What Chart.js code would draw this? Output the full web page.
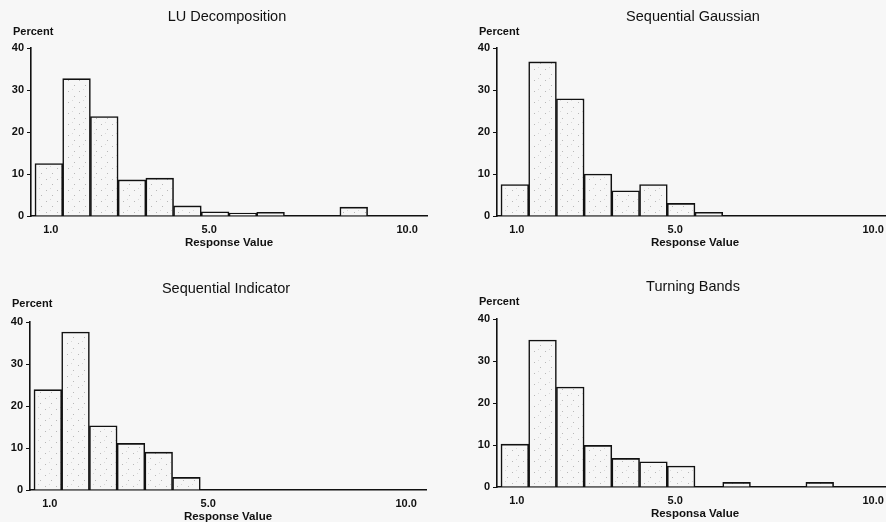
<!DOCTYPE html>
<html><head><meta charset="utf-8">
<script src="https://cdn.jsdelivr.net/npm/chart.js@4.4.1/dist/chart.umd.min.js"></script>
<style>
html,body{margin:0;padding:0;width:886px;height:522px;overflow:hidden;background:#f7f7f7;}
canvas{position:absolute;}
</style></head><body>
<canvas id="c1" width="450" height="261" style="left:0px;top:0px;width:450px;height:261px"></canvas>
<canvas id="c2" width="450" height="261" style="left:466px;top:0px;width:450px;height:261px"></canvas>
<canvas id="c3" width="450" height="261" style="left:-1px;top:274px;width:450px;height:261px"></canvas>
<canvas id="c4" width="450" height="261" style="left:466px;top:271px;width:450px;height:261px"></canvas>
<script>
// Histogram bins (centres of the response-value classes)
const binCenters = [0.95, 1.65, 2.35, 3.05, 3.75, 4.45, 5.15, 5.85, 6.55, 7.25, 7.95, 8.65, 9.35, 10.05];
const xTickValues = [1.0, 5.0, 10.0];
const yTickValues = [0, 10, 20, 30, 40];

// Percent of values in each bin
const luDecomposition     = [12.5, 32.7, 23.7, 8.6, 9.0, 2.4, 1.0, 0.7, 0.9, 0, 0, 2.1, 0, 0];
const sequentialGaussian  = [7.5, 36.7, 27.9, 10.0, 6.0, 7.5, 3.0, 0.9, 0, 0, 0, 0, 0, 0];
const sequentialIndicator = [23.9, 37.6, 15.3, 11.1, 9.0, 3.0, 0, 0, 0, 0, 0, 0, 0, 0];
const turningBands        = [10.2, 35.0, 23.8, 9.9, 6.8, 6.0, 5.0, 0, 1.1, 0, 0, 1.1, 0, 0];

const titles = ['LU Decomposition', 'Sequential Gaussian', 'Sequential Indicator', 'Turning Bands'];
const xTitles = ['Response Value', 'Response Value', 'Response Value', 'Responsa Value'];
const yLabel = 'Percent';

const FONT = '"Liberation Sans", Arial, Helvetica, sans-serif';

function stipple() {
  const c = document.createElement('canvas');
  c.width = 11; c.height = 11;
  const g = c.getContext('2d');
  g.fillStyle = '#f6f6f6'; g.fillRect(0, 0, 11, 11);
  g.fillStyle = '#b8b8b8';
  g.fillRect(2, 3, 1, 1);
  g.fillRect(8, 8, 1, 1);
  g.fillStyle = '#d8d8d8';
  g.fillRect(6, 1, 1, 1);
  return g.createPattern(c, 'repeat');
}

const panelText = {
  id: 'panelText',
  afterDraw(chart, args, opts) {
    const { ctx, chartArea } = chart;
    ctx.save();
    ctx.fillStyle = '#111';
    ctx.textBaseline = 'middle';
    ctx.textAlign = 'center';
    ctx.font = '14.5px ' + FONT;
    ctx.fillText(opts.title, (chartArea.left + chartArea.right) / 2 - 2, opts.titleY);
    ctx.textAlign = 'left';
    ctx.font = 'bold 11px ' + FONT;
    ctx.fillText(yLabel, chartArea.left - 18, opts.percentY);
    ctx.restore();
  }
};

const panels = [
  { id: 'c1', values: luDecomposition, title: titles[0], xTitle: xTitles[0], titleY: 17, percentY: 32 },
  { id: 'c2', values: sequentialGaussian, title: titles[1], xTitle: xTitles[1], titleY: 17, percentY: 32 },
  { id: 'c3', values: sequentialIndicator, title: titles[2], xTitle: xTitles[2], titleY: 15, percentY: 30 },
  { id: 'c4', values: turningBands, title: titles[3], xTitle: xTitles[3], titleY: 16, percentY: 31 }
];

panels.forEach(p => {
  new Chart(document.getElementById(p.id), {
    type: 'bar',
    data: {
      datasets: [{
        data: binCenters.map((x, i) => ({ x: x, y: p.values[i] })),
        backgroundColor: stipple(),
        borderColor: '#111',
        borderWidth: 1.6,
        barPercentage: 1,
        categoryPercentage: 1
      }]
    },
    options: {
      responsive: false,
      animation: false,
      events: [],
      layout: { padding: { top: 48, left: 0, right: 23, bottom: 0 } },
      plugins: {
        legend: { display: false },
        tooltip: { enabled: false },
        title: { display: false },
        panelText: { title: p.title, titleY: p.titleY, percentY: p.percentY }
      },
      scales: {
        x: {
          type: 'linear',
          offset: false,
          bounds: 'ticks',
          min: 0.5,
          max: 10.5,
          afterBuildTicks: s => { s.ticks = xTickValues.map(v => ({ value: v })); },
          afterFit: s => { s.height = 45; },
          ticks: {
            autoSkip: false, maxRotation: 0, padding: 7,
            color: '#111',
            font: { family: FONT, size: 11, weight: 'bold' },
            callback: v => Number(v).toFixed(1)
          },
          grid: { display: false, drawTicks: false, offset: false },
          border: { display: true, color: '#111', width: 1.6 },
          title: {
            display: true, text: p.xTitle, color: '#111',
            font: { family: FONT, size: 11.5, weight: 'bold' },
            padding: { top: 11, bottom: 11 }
          }
        },
        y: {
          min: 0,
          max: 40,
          afterBuildTicks: s => { s.ticks = yTickValues.map(v => ({ value: v })); },
          afterFit: s => { s.width = 31; },
          ticks: {
            padding: 3, color: '#111',
            font: { family: FONT, size: 11, weight: 'bold' }
          },
          grid: { display: true, drawOnChartArea: false, drawTicks: true, tickLength: 4, color: '#111', lineWidth: 1 },
          border: { display: true, color: '#111', width: 1.6 }
        }
      }
    },
    plugins: [panelText]
  });
});
</script>
</body></html>
